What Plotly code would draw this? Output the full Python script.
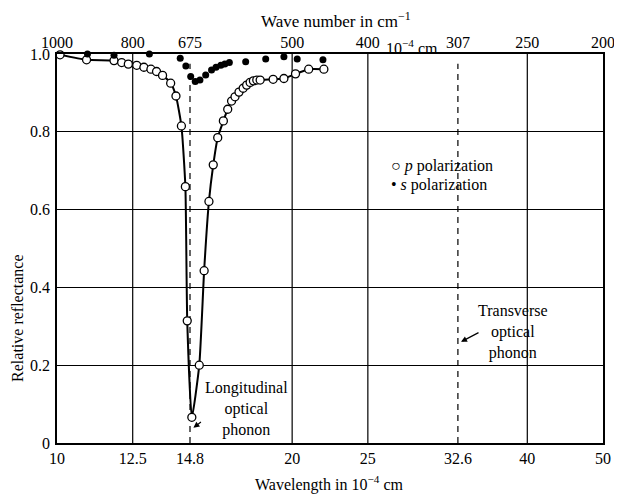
import numpy as np
import plotly.graph_objects as go

# Data (wavelength in 10^-4 cm, relative reflectance)
p_wavelength = [10.09, 10.91, 11.83, 12.10, 12.34, 12.65, 12.92, 13.19, 13.41, 13.65, 13.98,
                14.20, 14.43, 14.60, 14.68, 14.88, 15.21, 15.43, 15.65, 15.85, 16.06, 16.33,
                16.54, 16.73, 16.90, 17.10, 17.31, 17.49, 17.67, 17.84, 18.02, 18.20, 18.91,
                19.52, 20.20, 21.00, 21.96]
p_reflectance = [0.998, 0.985, 0.983, 0.978, 0.974, 0.971, 0.966, 0.961, 0.955, 0.945, 0.925,
                 0.892, 0.815, 0.659, 0.314, 0.066, 0.200, 0.443, 0.621, 0.715, 0.785, 0.828,
                 0.858, 0.879, 0.890, 0.902, 0.912, 0.920, 0.927, 0.931, 0.933, 0.933, 0.935,
                 0.937, 0.949, 0.961, 0.961]

s_wavelength = [10.94, 11.83, 13.13, 14.38, 14.62, 14.83, 15.03, 15.24, 15.50, 15.77, 15.98,
                16.21, 16.40, 16.62, 17.44, 18.50, 19.52, 20.30, 21.90]
s_reflectance = [1.0, 0.997, 1.0, 0.989, 0.969, 0.942, 0.929, 0.933, 0.946, 0.959, 0.966,
                 0.971, 0.974, 0.978, 0.980, 0.987, 0.993, 0.987, 0.985]

wavelength_ticks = [10, 12.5, 14.8, 20, 25, 32.6, 40, 50]
wavelength_labels = ["10", "12.5", "14.8", "20", "25", "32.6", "40", "50"]
wavenumber_labels = ["1000", "800", "675", "500", "400", "307", "250", "200"]
solid_grid = [12.5, 20, 25, 40]
phonon_lines = [14.8, 32.6]
y_ticks = [0, 0.2, 0.4, 0.6, 0.8, 1.0]
y_labels = ["0", "0.2", "0.4", "0.6", "0.8", "1.0"]

FONT = "Liberation Serif"
xr = [np.log10(10), np.log10(50)]
L = np.log10

fig = go.Figure()
fig.add_trace(go.Scatter(
    x=p_wavelength, y=p_reflectance, mode="lines+markers",
    line=dict(color="black", width=2, shape="spline", smoothing=0.5),
    marker=dict(symbol="circle", size=8, color="white", line=dict(color="black", width=1.3)),
    cliponaxis=False, showlegend=False))
fig.add_trace(go.Scatter(
    x=s_wavelength, y=s_reflectance, mode="markers",
    marker=dict(symbol="circle", size=7, color="black"),
    cliponaxis=False, showlegend=False))
# invisible trace for top axis
fig.add_trace(go.Scatter(x=[10, 50], y=[0, 0], xaxis="x2", mode="markers",
                         marker=dict(opacity=0), showlegend=False, hoverinfo="skip"))

shapes = []
for g in solid_grid:
    shapes.append(dict(type="line", xref="x", yref="paper", x0=g, x1=g, y0=0, y1=1,
                       line=dict(color="black", width=1.2), layer="below"))
for g in phonon_lines:
    shapes.append(dict(type="line", xref="x", yref="paper", x0=g, x1=g, y0=0, y1=0.975,
                       line=dict(color="black", width=1.2, dash="6px,5px"), layer="below"))

f16 = dict(family=FONT, size=16, color="black")
f17 = dict(family=FONT, size=17, color="black")

# page body has an 8px margin: figure is sized/offset to compensate
fig.update_layout(
    width=614, height=486,
    margin=dict(l=49, r=19, t=46, b=51, autoexpand=False),
    paper_bgcolor="white", plot_bgcolor="white",
    font=dict(family=FONT, color="black"),
    shapes=shapes,
    xaxis=dict(type="log", range=xr, tickvals=wavelength_ticks, ticktext=wavelength_labels,
               ticks="", showgrid=False, zeroline=False, showline=True, linecolor="black",
               linewidth=1.5, mirror=True, tickfont=f16, automargin=False),
    xaxis2=dict(type="log", range=xr, overlaying="x", side="top", tickvals=wavelength_ticks,
                ticktext=wavenumber_labels, ticks="", showgrid=False, zeroline=False,
                showline=False, tickfont=f16, automargin=False, ticklabelstandoff=2),
    yaxis=dict(range=[0, 1.0], tickvals=y_ticks, ticktext=y_labels, ticks="",
               showgrid=True, gridcolor="black", gridwidth=1.2, zeroline=False,
               showline=True, linecolor="black", linewidth=1.5, mirror=True, tickfont=f16,
               automargin=False, ticklabelstandoff=2),
    annotations=[
        dict(text="Wavelength in 10<sup>−4</sup> cm", xref="paper", yref="paper", x=0.498, y=0,
             yshift=-40, xanchor="center", yanchor="middle", showarrow=False, font=f16),
        dict(text="Relative reflectance", xref="paper", yref="paper", x=0, y=0.319,
             xshift=-39, xanchor="center", yanchor="middle", textangle=-90,
             showarrow=False, font=f16),
        dict(text="Wave number in cm<sup>−1</sup>", xref="paper", yref="paper", x=0.511, y=1.0,
             yshift=34, xanchor="center", yanchor="middle", showarrow=False, font=f17),
        dict(text="10<sup>−4</sup> cm", xref="x", yref="paper", x=L(28.5), y=1.0,
             yshift=7, xanchor="center", yanchor="middle", showarrow=False, font=f16),
        dict(text="○ <i>p</i> polarization", xref="x", yref="y", x=L(26.6), y=0.712,
             xanchor="left", yanchor="middle", showarrow=False, font=f16),
        dict(text="• <i>s</i> polarization", xref="x", yref="y", x=L(26.6), y=0.663,
             xanchor="left", yanchor="middle", showarrow=False, font=f16),
        dict(text="", xref="x", yref="y", x=L(14.95), y=0.039, ax=9, ay=-7,
             showarrow=True, arrowhead=2, arrowsize=1, arrowwidth=1.2, arrowcolor="black"),
        dict(text="Longitudinal<br>optical<br>phonon", xref="x", yref="y",
             x=L(17.5), y=0.087, xanchor="center", yanchor="middle", showarrow=False, font=f16),
        dict(text="", xref="x", yref="y", x=L(32.9), y=0.26, ax=19, ay=-10,
             showarrow=True, arrowhead=2, arrowsize=1, arrowwidth=1.2, arrowcolor="black"),
        dict(text="Transverse<br>optical<br>phonon", xref="x", yref="y",
             x=L(38.3), y=0.285, xanchor="center", yanchor="middle", showarrow=False, font=f16),
    ],
)

fig.write_html("out.html")
